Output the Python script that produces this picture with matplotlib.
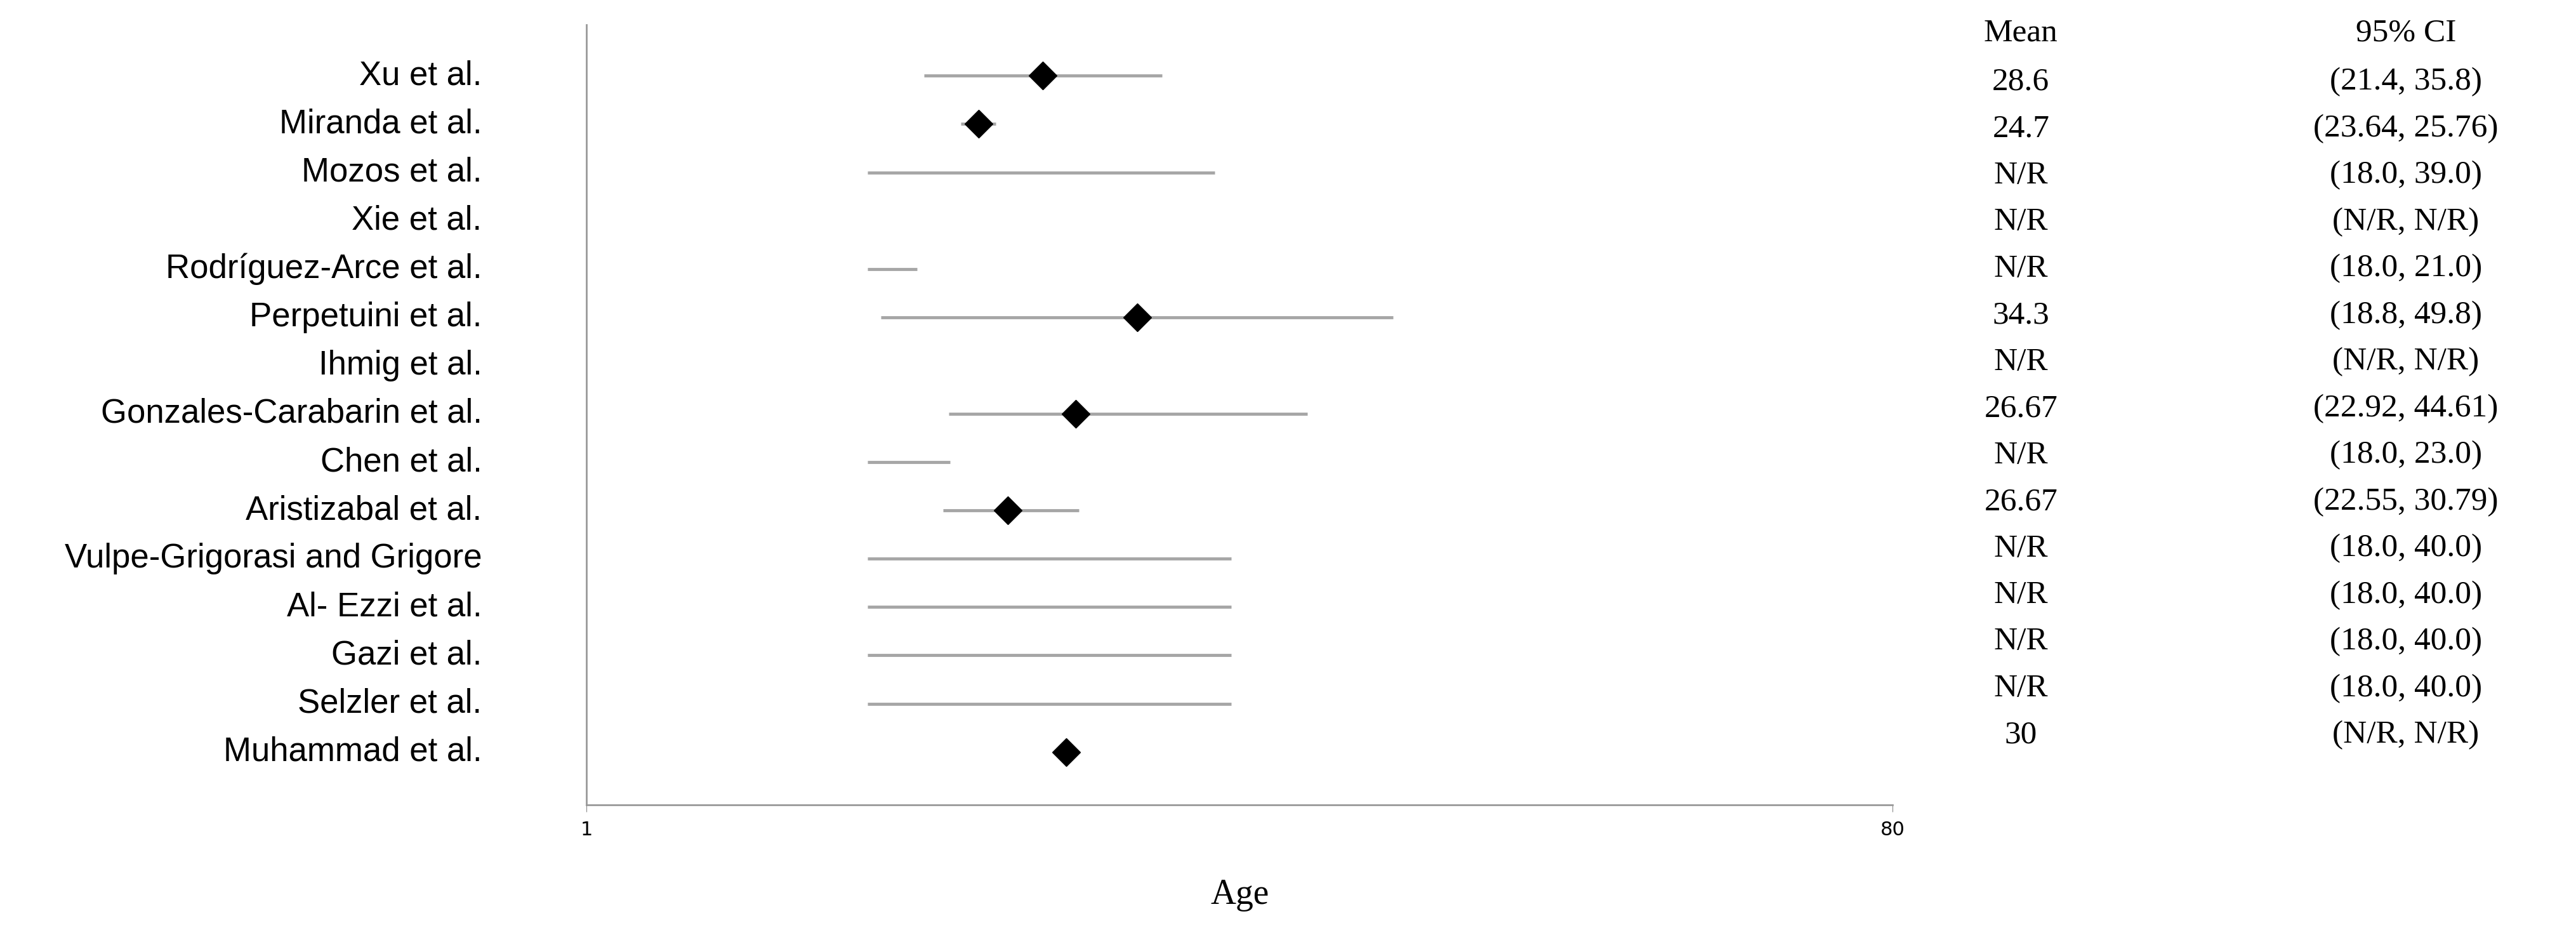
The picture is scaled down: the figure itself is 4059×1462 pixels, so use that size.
import numpy as np
import matplotlib.pyplot as plt

studies = ['Xu et al.', 'Miranda et al.', 'Mozos et al.', 'Xie et al.',
           'Rodríguez-Arce et al.', 'Perpetuini et al.', 'Ihmig et al.',
           'Gonzales-Carabarin et al.', 'Chen et al.', 'Aristizabal et al.',
           'Vulpe-Grigorasi and Grigore', 'Al- Ezzi et al.', 'Gazi et al.',
           'Selzler et al.', 'Muhammad et al.']
# marker positions as drawn in the picture
mean = [28.6, 24.7, np.nan, np.nan, np.nan, 34.3, np.nan, 30.6, np.nan,
        26.5, np.nan, np.nan, np.nan, np.nan, 30]
lo = [21.4, 23.64, 18.0, np.nan, 18.0, 18.8, np.nan, 22.92, 18.0, 22.55,
      18.0, 18.0, 18.0, 18.0, np.nan]
hi = [35.8, 25.76, 39.0, np.nan, 21.0, 49.8, np.nan, 44.61, 23.0, 30.79,
      40.0, 40.0, 40.0, 40.0, np.nan]
mean_txt = ['28.6', '24.7', 'N/R', 'N/R', 'N/R', '34.3', 'N/R', '26.67', 'N/R',
            '26.67', 'N/R', 'N/R', 'N/R', 'N/R', '30']
ci_txt = ['(21.4, 35.8)', '(23.64, 25.76)', '(18.0, 39.0)', '(N/R, N/R)',
          '(18.0, 21.0)', '(18.8, 49.8)', '(N/R, N/R)', '(22.92, 44.61)',
          '(18.0, 23.0)', '(22.55, 30.79)', '(18.0, 40.0)', '(18.0, 40.0)',
          '(18.0, 40.0)', '(18.0, 40.0)', '(N/R, N/R)']

fig = plt.figure(figsize=(40.59, 14.62), dpi=100)
ax = fig.add_axes([0.2277, 0.133, 0.507, 0.840])
y = np.arange(len(studies))
ax.hlines(y, lo, hi, color='#a6a6a6', lw=3.5)
ax.plot(mean, y, 'D', color='black', ms=22)
ax.set_xlim(1, 80)
ax.set_ylim(15.09, -1.05)
ax.set_xticks([1, 80])
ax.tick_params(axis='x', labelsize=22, length=8, color='#888888', pad=10)
ax.set_yticks([])
for s in ['top', 'right']:
    ax.spines[s].set_visible(False)
for s in ['left', 'bottom']:
    ax.spines[s].set_color('#999999')
    ax.spines[s].set_linewidth(2)
ax.set_xlabel('Age', fontsize=40, family='Liberation Serif', labelpad=45)

for i, s in enumerate(studies):
    ax.text(-0.08, i, s, transform=ax.get_yaxis_transform(), ha='right',
            va='center', fontsize=38, family='Liberation Sans')

# table columns
top = 1 - 20 / 565
step = 28.4 / 565
fig.text(0.7845, top, 'Mean', ha='center', va='center', fontsize=37, family='Liberation Serif')
fig.text(0.934, top, '95% CI', ha='center', va='center', fontsize=37, family='Liberation Serif')
for i in range(len(studies)):
    yy = 1 - (50 + i * step * 565) / 565
    fig.text(0.7845, yy, mean_txt[i], ha='center', va='center', fontsize=37, family='Liberation Serif')
    fig.text(0.934, yy, ci_txt[i], ha='center', va='center', fontsize=37, family='Liberation Serif')

fig.savefig('out.png')
